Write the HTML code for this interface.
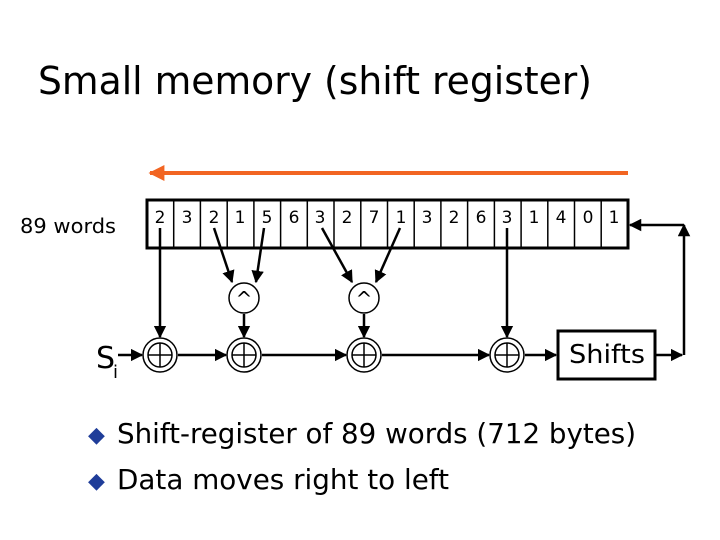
<!DOCTYPE html>
<html><head><meta charset="utf-8"><style>
body{margin:0;background:#fff;}
svg{display:block;font-family:"DejaVu Sans","Liberation Sans",sans-serif;}
</style></head><body>
<svg width="720" height="540" viewBox="0 0 720 540">
<defs>
<marker id="a" viewBox="0 0 10 10" refX="9" refY="5" markerWidth="5" markerHeight="5" orient="auto"><path d="M0,0L10,5L0,10z" fill="#000"/></marker>
<marker id="o" viewBox="0 0 10 10" refX="9" refY="5" markerWidth="4" markerHeight="4" orient="auto"><path d="M0,0L10,5L0,10z" fill="#f26522"/></marker>
</defs>
<text x="38" y="94" font-size="38" textLength="554" lengthAdjust="spacingAndGlyphs">Small memory (shift register)</text>
<line x1="628" y1="173" x2="150" y2="173" stroke="#f26522" stroke-width="4" marker-end="url(#o)"/>
<text x="20" y="233" font-size="20" textLength="96" lengthAdjust="spacingAndGlyphs">89 words</text>
<rect x="147" y="200" width="481" height="48" fill="none" stroke="#000" stroke-width="3"/>
<g stroke="#000" stroke-width="1.5">
<line x1="173.7" y1="200" x2="173.7" y2="248"/><line x1="200.4" y1="200" x2="200.4" y2="248"/><line x1="227.2" y1="200" x2="227.2" y2="248"/><line x1="253.9" y1="200" x2="253.9" y2="248"/><line x1="280.6" y1="200" x2="280.6" y2="248"/><line x1="307.3" y1="200" x2="307.3" y2="248"/><line x1="334" y1="200" x2="334" y2="248"/><line x1="360.8" y1="200" x2="360.8" y2="248"/><line x1="387.5" y1="200" x2="387.5" y2="248"/><line x1="414.2" y1="200" x2="414.2" y2="248"/><line x1="440.9" y1="200" x2="440.9" y2="248"/><line x1="467.6" y1="200" x2="467.6" y2="248"/><line x1="494.4" y1="200" x2="494.4" y2="248"/><line x1="521.1" y1="200" x2="521.1" y2="248"/><line x1="547.8" y1="200" x2="547.8" y2="248"/><line x1="574.5" y1="200" x2="574.5" y2="248"/><line x1="601.2" y1="200" x2="601.2" y2="248"/>
</g>
<g font-size="17" text-anchor="middle">
<text x="160" y="223">2</text><text x="187" y="223">3</text><text x="214" y="223">2</text><text x="240" y="223">1</text><text x="267" y="223">5</text><text x="294" y="223">6</text><text x="320" y="223">3</text><text x="347" y="223">2</text><text x="374" y="223">7</text><text x="401" y="223">1</text><text x="427" y="223">3</text><text x="454" y="223">2</text><text x="481" y="223">6</text><text x="507" y="223">3</text><text x="534" y="223">1</text><text x="561" y="223">4</text><text x="588" y="223">0</text><text x="614" y="223">1</text>
</g>
<g stroke="#000" stroke-width="2.5" fill="none">
<line x1="160" y1="228" x2="160" y2="337" marker-end="url(#a)"/>
<line x1="214" y1="228" x2="232" y2="282" marker-end="url(#a)"/>
<line x1="264" y1="228" x2="256" y2="282" marker-end="url(#a)"/>
<line x1="244" y1="314" x2="244" y2="337" marker-end="url(#a)"/>
<line x1="322" y1="228" x2="352" y2="282" marker-end="url(#a)"/>
<line x1="400" y1="228" x2="376" y2="282" marker-end="url(#a)"/>
<line x1="364" y1="314" x2="364" y2="337" marker-end="url(#a)"/>
<line x1="507" y1="228" x2="507" y2="337" marker-end="url(#a)"/>
<line x1="118" y1="355" x2="142" y2="355" marker-end="url(#a)"/>
<line x1="178" y1="355" x2="226" y2="355" marker-end="url(#a)"/>
<line x1="262" y1="355" x2="346" y2="355" marker-end="url(#a)"/>
<line x1="382" y1="355" x2="489" y2="355" marker-end="url(#a)"/>
<line x1="525" y1="355" x2="556" y2="355" marker-end="url(#a)"/>
<line x1="656" y1="355" x2="682" y2="355" marker-end="url(#a)"/>
<line x1="684" y1="355" x2="684" y2="225" marker-end="url(#a)"/>
<line x1="684" y1="225" x2="630" y2="225" marker-end="url(#a)"/>
</g>
<g stroke="#000" stroke-width="1.5" fill="#fff">
<circle cx="244" cy="298" r="15"/><circle cx="364" cy="298" r="15"/>
</g>
<g font-size="20" text-anchor="middle"><text x="244" y="306">^</text><text x="364" y="306">^</text></g>
<g stroke="#000" stroke-width="1.5" fill="#fff">
<circle cx="160" cy="355" r="17"/><circle cx="160" cy="355" r="12"/><path d="M148,355H172M160,343V367"/>
<circle cx="244" cy="355" r="17"/><circle cx="244" cy="355" r="12"/><path d="M232,355H256M244,343V367"/>
<circle cx="364" cy="355" r="17"/><circle cx="364" cy="355" r="12"/><path d="M352,355H376M364,343V367"/>
<circle cx="507" cy="355" r="17"/><circle cx="507" cy="355" r="12"/><path d="M495,355H519M507,343V367"/>
</g>
<rect x="558" y="331" width="97" height="48" fill="none" stroke="#000" stroke-width="3"/>
<text x="569" y="363" font-size="26" textLength="76" lengthAdjust="spacingAndGlyphs">Shifts</text>
<text x="96" y="368" font-size="30">S</text><text x="113" y="378" font-size="18">i</text>
<g font-size="28">
<text x="88" y="442" font-size="22" fill="#1f3d99">◆</text><text x="117" y="443" textLength="519" lengthAdjust="spacingAndGlyphs">Shift-register of 89 words (712 bytes)</text>
<text x="88" y="488" font-size="22" fill="#1f3d99">◆</text><text x="117" y="489" textLength="332" lengthAdjust="spacingAndGlyphs">Data moves right to left</text>
</g>
</svg>
</body></html>
